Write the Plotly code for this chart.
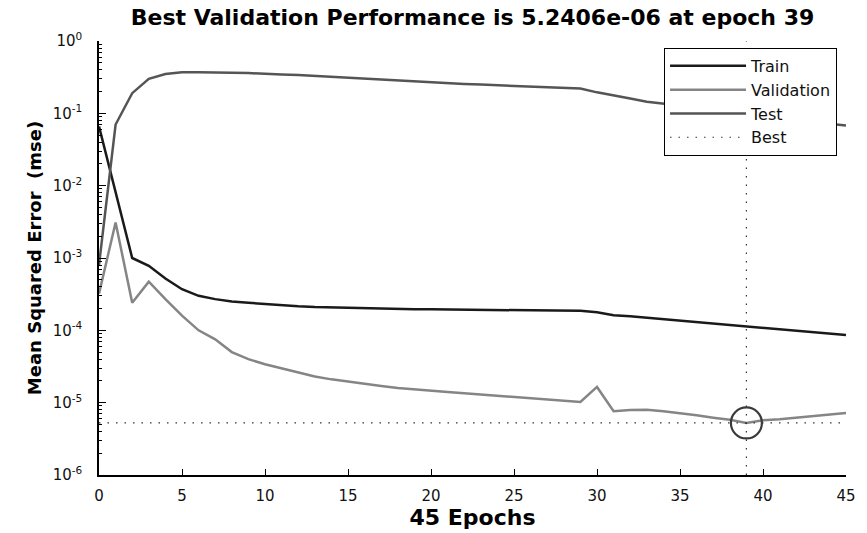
import numpy as np
import plotly.graph_objects as go

epochs = list(range(0, 46))

train_mse = [0.066, 8.5e-3, 1.0e-3, 7.8e-4, 5.2e-4, 3.7e-4, 3.0e-4, 2.7e-4, 2.5e-4, 2.4e-4,
             2.3e-4, 2.2e-4, 2.15e-4, 2.1e-4, 2.07e-4, 2.05e-4, 2.02e-4, 2.0e-4, 1.98e-4, 1.96e-4,
             1.95e-4, 1.94e-4, 1.93e-4, 1.92e-4, 1.91e-4, 1.9e-4, 1.89e-4, 1.88e-4, 1.87e-4, 1.86e-4,
             1.78e-4, 1.62e-4, 1.57e-4, 1.5e-4, 1.43e-4, 1.37e-4, 1.31e-4, 1.25e-4, 1.18e-4, 1.13e-4,
             1.09e-4, 1.05e-4, 1.0e-4, 9.5e-5, 9.0e-5, 8.6e-5]

val_mse = [3.2e-4, 3.1e-3, 2.4e-4, 4.7e-4, 2.7e-4, 1.6e-4, 1.0e-4, 7.5e-5, 5.0e-5, 4.0e-5,
           3.4e-5, 3.0e-5, 2.6e-5, 2.3e-5, 2.1e-5, 1.95e-5, 1.8e-5, 1.7e-5, 1.6e-5, 1.52e-5,
           1.45e-5, 1.4e-5, 1.35e-5, 1.3e-5, 1.25e-5, 1.2e-5, 1.15e-5, 1.1e-5, 1.06e-5, 1.02e-5,
           1.65e-5, 7.6e-6, 7.9e-6, 8.0e-6, 7.6e-6, 7.2e-6, 6.7e-6, 6.2e-6, 5.8e-6, 5.2406e-6,
           5.7e-6, 5.9e-6, 6.2e-6, 6.6e-6, 6.9e-6, 7.2e-6]

test_mse = [8e-4, 0.07, 0.19, 0.30, 0.35, 0.37, 0.37, 0.37, 0.365, 0.36,
            0.35, 0.345, 0.34, 0.33, 0.32, 0.31, 0.30, 0.29, 0.285, 0.275,
            0.265, 0.26, 0.255, 0.25, 0.245, 0.24, 0.235, 0.23, 0.225, 0.22,
            0.195, 0.175, 0.16, 0.145, 0.135, 0.128, 0.12, 0.113, 0.107, 0.102,
            0.097, 0.092, 0.086, 0.08, 0.072, 0.068]

best_epoch = 39
best_perf = 5.2406e-06
y_limits = [1e-6, 1e0]
x_limits = [0, 45]
y_exponents = [-6, -5, -4, -3, -2, -1, 0]
y_tick_vals = [10.0 ** e for e in y_exponents]
y_tick_text = ["10<sup>%d</sup>" % e for e in y_exponents]
y_minor_vals = [k * 10.0 ** e for e in y_exponents[:-1] for k in range(2, 10)]
x_tick_vals = [0, 5, 10, 15, 20, 25, 30, 35, 40, 45]

TICK_FONT = dict(family="DejaVu Sans", size=15, color="#111")
y_log_range = [np.log10(y_limits[0]), np.log10(y_limits[1])]

fig = go.Figure()
fig.add_trace(go.Scatter(x=epochs, y=train_mse, mode="lines", name="Train",
                         line=dict(color="#1a1a1a", width=2.5)))
fig.add_trace(go.Scatter(x=epochs, y=val_mse, mode="lines", name="Validation",
                         line=dict(color="#858585", width=2.5)))
fig.add_trace(go.Scatter(x=epochs, y=test_mse, mode="lines", name="Test",
                         line=dict(color="#555555", width=2.5)))
fig.add_trace(go.Scatter(
    x=[x_limits[0], x_limits[1], None, best_epoch, best_epoch],
    y=[best_perf, best_perf, None, y_limits[0], y_limits[1]],
    mode="lines", name="Best",
    line=dict(color="#333333", width=1.2, dash="1.5px,7px")))

# circle around best point
fig.add_trace(go.Scatter(x=[best_epoch], y=[best_perf], mode="markers", showlegend=False,
                         marker=dict(symbol="circle-open", size=31,
                                     line=dict(color="#3a3a3a", width=2.2),
                                     color="#3a3a3a")))

# invisible trace to carry the minor-tick overlay axis
fig.add_trace(go.Scatter(x=[best_epoch], y=[best_perf], yaxis="y2", mode="markers",
                         showlegend=False, hoverinfo="skip",
                         marker=dict(opacity=0)))

fig.update_layout(
    width=867, height=533,
    margin=dict(l=99, r=11, t=41, b=54),
    paper_bgcolor="white", plot_bgcolor="white",
    title=dict(text="<b>Best Validation Performance is 5.2406e-06 at epoch 39</b>",
               font=dict(family="DejaVu Sans", size=22, color="#000"),
               x=0.5, xref="paper", xanchor="center",
               y=1 - 17 / 533, yanchor="middle"),
    legend=dict(x=0.988, xanchor="right", y=0.984, yanchor="top",
                bgcolor="white", bordercolor="#000", borderwidth=1,
                font=dict(family="DejaVu Sans", size=16, color="#111"),
                itemwidth=76, tracegroupgap=0),
    showlegend=True,
    yaxis2=dict(type="log", range=y_log_range, overlaying="y", side="left",
                tickmode="array", tickvals=y_minor_vals, ticks="inside", ticklen=3,
                tickcolor="#000", tickwidth=1, showticklabels=False,
                showline=False, showgrid=False, zeroline=False),
)

fig.update_xaxes(range=x_limits, tickvals=x_tick_vals, ticks="inside", ticklen=6,
                 tickcolor="#000", tickwidth=1.2,
                 showline=True, linecolor="#000", linewidth=1.5, mirror=False,
                 showgrid=False, zeroline=False, tickfont=TICK_FONT,
                 ticklabelstandoff=6,
                 title=dict(text="<b>45 Epochs</b>",
                            font=dict(family="DejaVu Sans", size=22, color="#000"),
                            standoff=2))

fig.update_yaxes(selector=dict(anchor="x"), overwrite=False)
fig.layout.yaxis.update(type="log", range=y_log_range,
                 tickmode="array", tickvals=y_tick_vals, ticktext=y_tick_text,
                 ticks="inside", ticklen=7, tickcolor="#000", tickwidth=1.2,
                 showline=True, linecolor="#000", linewidth=1.5, mirror=False,
                 showgrid=False, zeroline=False, tickfont=TICK_FONT,
                 ticklabelstandoff=12,
                 title=dict(text="<b>Mean Squared Error  (mse)</b>",
                            font=dict(family="DejaVu Sans", size=18, color="#000"),
                            standoff=6))

fig.write_html("out.html")
